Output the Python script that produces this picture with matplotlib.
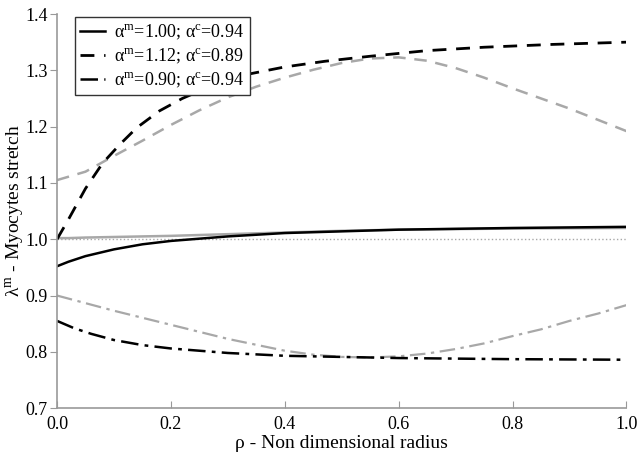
import matplotlib
matplotlib.use("Agg")
import matplotlib.pyplot as plt

plt.rcParams['font.family'] = ['Liberation Serif', 'DejaVu Serif']
plt.rcParams['mathtext.fontset'] = 'custom'
plt.rcParams['mathtext.rm'] = 'Liberation Serif'

# alpha_m = 1.00; alpha_c = 0.94 (black solid) and its grey counterpart
rho_solid = [0.0, 0.02, 0.05, 0.1, 0.15, 0.2, 0.3, 0.4, 0.5, 0.6, 0.8, 1.0]
lam_solid_black = [0.952, 0.960, 0.970, 0.982, 0.991, 0.997, 1.005, 1.011, 1.014, 1.017, 1.020, 1.022]
lam_solid_grey = [1.002, 1.002, 1.003, 1.004, 1.005, 1.006, 1.009, 1.012, 1.015, 1.017, 1.019, 1.020]

# alpha_m = 1.12; alpha_c = 0.89 (dashed)
rho_dash_black = [0.0, 0.02, 0.05, 0.08, 0.11, 0.14, 0.18, 0.22, 0.27, 0.33, 0.40,
                  0.47, 0.55, 0.65, 0.75, 0.87, 1.0]
lam_dash_black = [1.0, 1.035, 1.09, 1.135, 1.168, 1.198, 1.228, 1.25, 1.272, 1.292, 1.306,
                  1.316, 1.325, 1.335, 1.341, 1.346, 1.350]
rho_dash_grey = [0.0, 0.05, 0.1, 0.15, 0.2, 0.25, 0.3, 0.35, 0.4, 0.45, 0.5,
                 0.55, 0.6, 0.65, 0.7, 0.75, 0.8, 0.85, 0.9, 0.95, 1.0]
lam_dash_grey = [1.105, 1.12, 1.148, 1.175, 1.203, 1.229, 1.252, 1.271, 1.287, 1.301, 1.313,
                 1.321, 1.323, 1.317, 1.304, 1.287, 1.268, 1.25, 1.232, 1.212, 1.192]

# alpha_m = 0.90; alpha_c = 0.94 (dash-dot)
rho_dd_black = [0.0, 0.03, 0.06, 0.1, 0.15, 0.2, 0.3, 0.4, 0.5, 0.6, 0.8, 1.0]
lam_dd_black = [0.855, 0.842, 0.832, 0.821, 0.812, 0.806, 0.798, 0.793, 0.791, 0.789, 0.787, 0.786]
rho_dd_grey = [0.0, 0.1, 0.2, 0.3, 0.4, 0.45, 0.5, 0.55, 0.6, 0.65, 0.7, 0.75,
               0.8, 0.85, 0.9, 0.95, 1.0]
lam_dd_grey = [0.900, 0.873, 0.848, 0.823, 0.802, 0.795, 0.791, 0.790, 0.792, 0.797, 0.805, 0.815,
               0.828, 0.840, 0.855, 0.868, 0.883]

# reference line lambda = 1
rho_ref = [0.0, 1.0]
lam_ref = [1.0, 1.0]

labels = ['α$^{\\rm m}$=1.00; α$^{\\rm c}$=0.94',
          'α$^{\\rm m}$=1.12; α$^{\\rm c}$=0.89',
          'α$^{\\rm m}$=0.90; α$^{\\rm c}$=0.94']
xticks = [0.0, 0.2, 0.4, 0.6, 0.8, 1.0]
yticks = [0.7, 0.8, 0.9, 1.0, 1.1, 1.2, 1.3, 1.4]

grey = '#a8a8a8'
fig = plt.figure(figsize=(6.37, 4.67), dpi=100)
ax = fig.add_axes([0.0895, 0.126, 0.894, 0.844])

ax.plot(rho_ref, lam_ref, color=grey, lw=1.0, ls=':')
ax.plot(rho_solid, lam_solid_grey, color=grey, lw=1.8, ls='-')
ax.plot(rho_dash_grey, lam_dash_grey, color=grey, lw=1.8, ls=(0, (5, 3.5)))
ax.plot(rho_dd_grey, lam_dd_grey, color=grey, lw=1.6, ls=(0, (7, 2.5, 1.5, 2.5)))
l1, = ax.plot(rho_solid, lam_solid_black, color='black', lw=1.8, ls='-')
l2, = ax.plot(rho_dash_black, lam_dash_black, color='black', lw=2.0, ls=(0, (5, 3.5)))
l3, = ax.plot(rho_dd_black, lam_dd_black, color='black', lw=1.8, ls=(0, (7, 2.5, 1.5, 2.5)))

ax.set_xlim(0, 1.0)
ax.set_ylim(0.7, 1.4)
ax.set_xticks(xticks)
ax.set_xticklabels(['%.1f' % v for v in xticks])
ax.set_yticks(yticks)
ax.set_yticklabels(['%.1f' % v for v in yticks])

for s in ['top', 'right']:
    ax.spines[s].set_visible(False)
for s in ['left', 'bottom']:
    ax.spines[s].set_color('#999999')
    ax.spines[s].set_linewidth(1.2)
ax.tick_params(axis='x', direction='in', length=5, color='#999999', labelsize=13, pad=6)
ax.tick_params(axis='y', direction='out', length=5, color='#999999', labelsize=13, pad=1.5)

ax.set_xlabel('ρ - Non dimensional radius', fontsize=14, labelpad=1)
ax.set_ylabel('λ$^{\\rm m}$ - Myocytes stretch', fontsize=14)
ax.yaxis.set_label_coords(-0.052, 0.5)

leg = ax.legend([l1, l2, l3], labels, loc='upper left', bbox_to_anchor=(0.015, 1.015),
                fontsize=13, fancybox=False, framealpha=1, handlelength=1.4,
                handletextpad=0.5, borderpad=0.3, labelspacing=0.25)
leg.get_frame().set_edgecolor('#333333')
leg.get_frame().set_linewidth(1.0)

plt.savefig('out.png', dpi=100)
